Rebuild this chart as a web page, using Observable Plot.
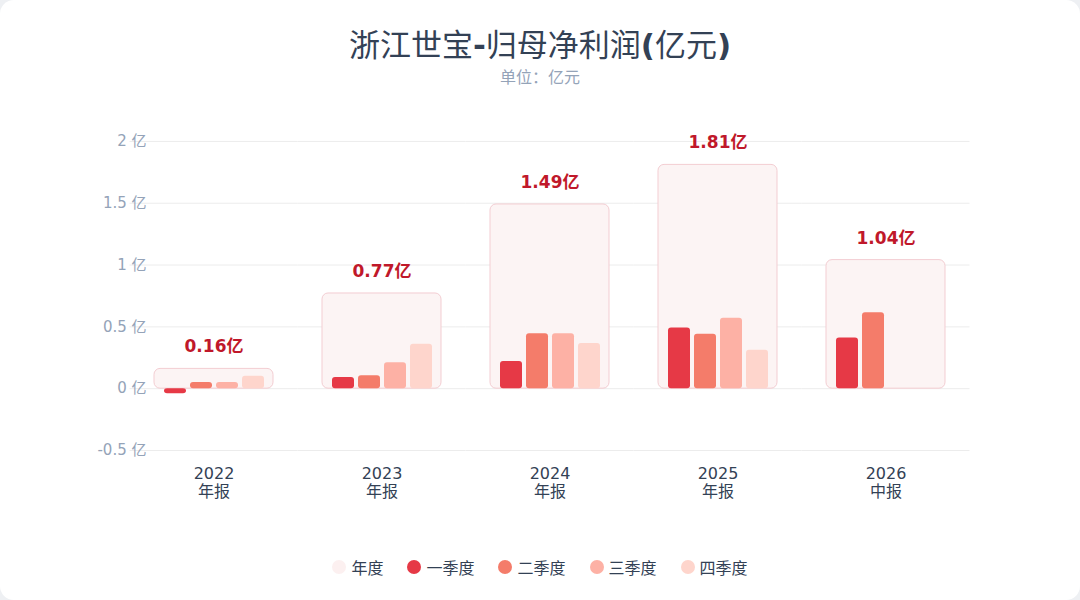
<!DOCTYPE html>
<html><head><meta charset="utf-8">
<script src="https://cdn.jsdelivr.net/npm/d3@7"></script>
<script src="https://cdn.jsdelivr.net/npm/@observablehq/plot@0.6"></script>
<style>
body{margin:0;background:#eef0f3;font-family:"DejaVu Sans","Noto Sans CJK SC",sans-serif;}
#card{position:relative;width:1080px;height:600px;background:#fff;border-radius:14px;overflow:hidden;}
#title{position:absolute;top:20px;width:100%;text-align:center;font-size:31px;color:#334155;}
#sub{position:absolute;top:64px;width:100%;text-align:center;font-size:16px;color:#94a3b8;}
#chart{position:absolute;top:0;left:0;}
#legend{position:absolute;top:555px;width:100%;display:flex;justify-content:center;gap:24px;font-size:16px;color:#334155;}
#legend span{display:flex;align-items:center;gap:5px;}
#legend i{display:inline-block;width:14px;height:14px;border-radius:50%;}
</style></head><body>
<div id="card">
<div id="title">浙江世宝<b>-</b>归母净利润<b>(</b>亿元<b>)</b></div>
<div id="sub">单位：亿元</div>
<div id="chart"></div>
<div id="legend"></div>
</div>
<script>
const years = ["2022","2023","2024","2025","2026"];
const periodLabels = ["年报","年报","年报","年报","中报"];
const annual = [0.16,0.77,1.49,1.81,1.04];
const quarters = ["一季度","二季度","三季度","四季度"];
const q1 = [-0.04,0.09,0.22,0.49,0.41];
const q2 = [0.05,0.105,0.445,0.44,0.615];
const q3 = [0.05,0.21,0.445,0.57,null];
const q4 = [0.10,0.36,0.365,0.31,null];
const colors = ["#e63946","#f47c6a","#fdb1a5","#fed5cc"];
const yTicks = [-0.5,0,0.5,1,1.5,2];

const annualData = years.map((y,i)=>({year:y,value:annual[i]}));
const qData = [];
[q1,q2,q3,q4].forEach((arr,qi)=>arr.forEach((v,i)=>{ if(v!=null) qData.push({year:years[i],q:quarters[qi],value:v}); }));
const labelMap = Object.fromEntries(years.map((y,i)=>[y,y+"\n"+periodLabels[i]]));

const plot = Plot.plot({
  width:1080,height:520,
  marginLeft:130,marginRight:110,marginTop:110,marginBottom:70,
  style:{fontFamily:"'DejaVu Sans','Noto Sans CJK SC',sans-serif",background:"transparent"},
  fx:{domain:years,paddingInner:0.29,paddingOuter:0.145,label:null,axis:null},
  x:{domain:quarters,paddingInner:0.17,paddingOuter:0.33,axis:null},
  y:{domain:[-0.5,2.25],label:null},
  color:{domain:quarters,range:colors},
  marks:[
    Plot.ruleY(yTicks,{stroke:"#ececec",insetLeft:-24.5,insetRight:-24.5}),
    Plot.axisY({ticks:yTicks,tickSize:0,tickPadding:8,tickFormat:d=>d+" 亿",fill:"#94a3b8",fontSize:15,label:null}),
    Plot.axisFx({anchor:"bottom",tickSize:0,tickPadding:16,tickFormat:d=>labelMap[d],fill:"#334155",fontSize:16,lineHeight:1.1,label:null}),
    Plot.barY(annualData,{fx:"year",y1:0,y2:"value",fill:"#fcf4f4",stroke:"#f3cdd2",rx:6}),
    Plot.barY(qData,{fx:"year",x:"q",y:"value",fill:"q",rx:3}),
    Plot.text(annualData,{fx:"year",y:"value",text:d=>d.value.toFixed(2)+"亿",dy:-22,fill:"#c0182a",fontWeight:"bold",fontSize:17})
  ]
});
document.getElementById("chart").appendChild(plot);

const lg = document.getElementById("legend");
[["年度","#fcf0f0"],...quarters.map((q,i)=>[q,colors[i]])].forEach(([t,c])=>{
  const s=document.createElement("span"); s.innerHTML=`<i style="background:${c}"></i>${t}`; lg.appendChild(s);
});
</script>
</body></html>
